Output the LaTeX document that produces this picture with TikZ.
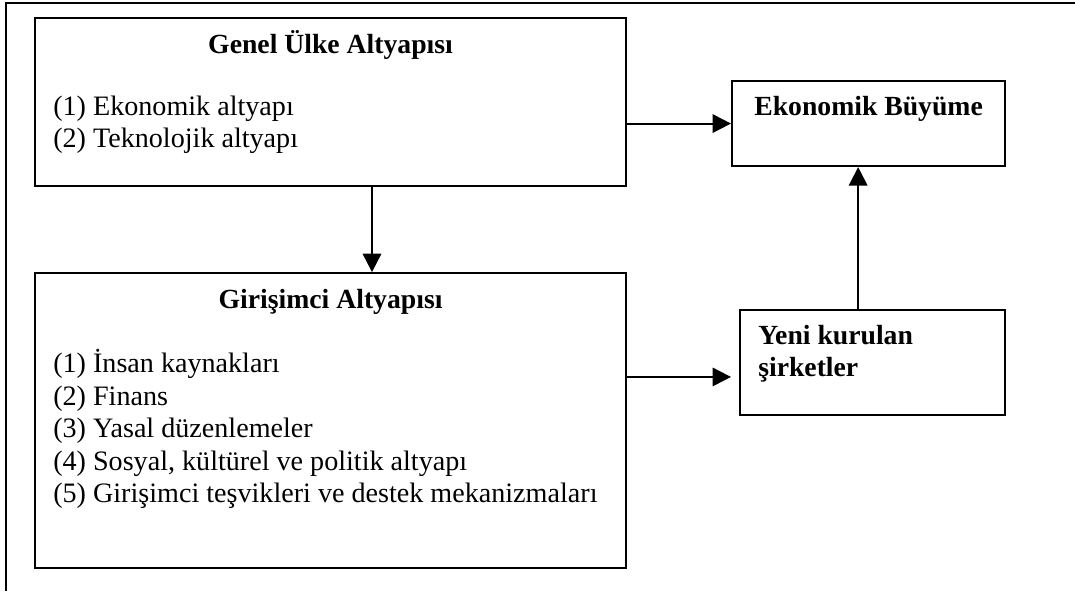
\documentclass[tikz,border=0pt]{standalone}
\usepackage{fontspec}
\setmainfont{Liberation Serif}
\usepackage{tikz}
\usetikzlibrary{arrows.meta,positioning,calc}

\begin{document}
\begin{tikzpicture}[
    kutu/.style={draw, line width=1.5pt, rectangle, inner sep=0pt},
    baslik/.style={font=\fontsize{19.7}{23.1}\selectfont\bfseries, inner sep=0pt},
    liste/.style={font=\fontsize{20}{23.1}\selectfont, align=left, inner sep=0pt, anchor=north west},
    ok/.style={line width=1.4pt, -{Triangle[length=4.6mm, width=4.6mm]}},
    cerceve/.style={line width=2pt}
  ]
    \useasboundingbox (0,0) rectangle (26.875,-14.775);
    \draw[cerceve] (26.875,-0.075) -- (0.15,-0.075) -- (0.15,-14.775);

    \node[kutu, minimum width=14.775cm, minimum height=4.2cm, anchor=north west] (genel) at (0.85,-0.425) {};
    \node[kutu, minimum width=14.775cm, minimum height=7.375cm, below=2.125cm of genel] (girisim) {};
    \node[kutu, minimum width=6.825cm, minimum height=2.125cm, anchor=north west] (buyume) at (18.275,-2.0) {};
    \node[kutu, minimum width=6.625cm, minimum height=2.625cm, anchor=north west] (yeni) at (18.475,-7.725) {};

    \node[baslik, anchor=base] (genelbaslik) at ([yshift=-0.9cm]genel.north) {Genel Ülke Altyapısı};
    \node[liste] (genelliste) at ([xshift=0.475cm, yshift=-1.88cm]genel.north west)
      {\strut(1) Ekonomik altyapı\\(2) Teknolojik altyapı};

    \node[baslik, anchor=base] (girisimbaslik) at ([yshift=-0.92cm]girisim.north) {Girişimci Altyapısı};
    \node[liste] (girisimliste) at ([xshift=0.475cm, yshift=-1.93cm]girisim.north west)
      {\strut(1) İnsan kaynakları\\(2) Finans\\(3) Yasal düzenlemeler\\(4) Sosyal, kültürel ve politik altyapı\\(5) Girişimci teşvikleri ve destek mekanizmaları};

    \node[baslik, anchor=base] (buyumemetin) at ([yshift=-0.875cm]buyume.north) {Ekonomik Büyüme};
    \node[liste, font=\fontsize{19.7}{23.1}\selectfont\bfseries] (yenimetin) at ([xshift=0.475cm, yshift=-0.305cm]yeni.north west)
      {\strut Yeni kurulan\\şirketler};

    \draw[ok] (genel.east |- buyume.west) -- (buyume.west);
    \draw[ok] ([xshift=8.45cm]genel.south west) -- ([xshift=8.45cm]girisim.north west);
    \draw[ok, shorten >=0.2cm] ([yshift=-0.36cm]girisim.east |- yeni.west) -- ([yshift=-0.36cm]yeni.west);
    \draw[ok] ([xshift=-0.36cm]yeni.north) -- ([xshift=-0.36cm]yeni.north |- buyume.south);
  \end{tikzpicture}
\end{document}
